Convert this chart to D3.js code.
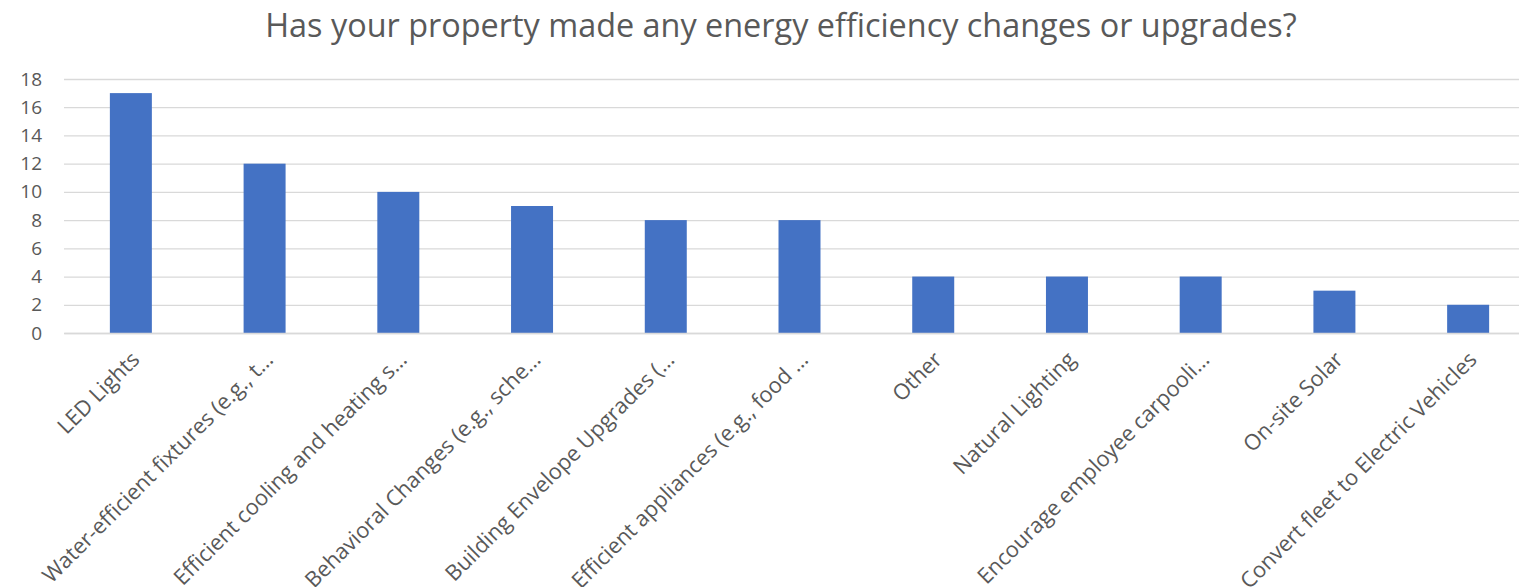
<!DOCTYPE html>
<html><head><meta charset="utf-8">
<script src="https://cdn.jsdelivr.net/npm/d3@7"></script>
<style>html,body{margin:0;padding:0;background:#fff;overflow:hidden}</style>
</head><body>
<svg id="c" width="1519" height="587"></svg>
<script>
const title = "Has your property made any energy efficiency changes or upgrades?";
const categories = ["LED Lights","Water-efficient fixtures (e.g., t…","Efficient cooling and heating s…","Behavioral Changes (e.g., sche…","Building Envelope Upgrades (…","Efficient appliances (e.g., food …","Other","Natural Lighting","Encourage employee carpooli…","On-site Solar","Convert fleet to Electric Vehicles"];
const values = [17,12,10,9,8,8,4,4,4,3,2];
const yTicks = [0,2,4,6,8,10,12,14,16,18];

const svg = d3.select("#c");
const font = "Open Sans, sans-serif";
const textColor = "#595959";
const plotLeft = 64, plotRight = 1535, plotTop = 79, plotBottom = 333;

const x = d3.scaleBand().domain(categories).range([plotLeft, plotRight]).paddingInner(0.686).paddingOuter(0.343);
const y = d3.scaleLinear().domain([0, 18]).range([plotBottom, plotTop]);

// title
const t = svg.append("text").attr("x", 781).attr("y", 37).attr("text-anchor","middle")
  .attr("font-family", font).attr("font-size", 28).attr("fill", textColor).text(title);
const tw = t.node().getComputedTextLength();
t.attr("font-size", 28 * 1032 / tw);

// gridlines
const yAxis = d3.axisLeft(y).tickValues(yTicks).tickSize(-(plotRight-plotLeft)).tickPadding(22);
const gy = svg.append("g").attr("transform", `translate(${plotLeft},0)`).call(yAxis);
gy.select(".domain").remove();
gy.selectAll(".tick line").attr("stroke", "#D9D9D9").attr("stroke-width", 1.3);
gy.selectAll(".tick text").attr("font-family", font).attr("font-size", 19).attr("fill", textColor);

// bars
svg.append("g").selectAll("rect").data(values).join("rect")
  .attr("x", (d,i) => x(categories[i]))
  .attr("width", x.bandwidth())
  .attr("y", d => y(d))
  .attr("height", d => y(0) - y(d))
  .attr("fill", "#4472C4");

// x labels
const xAxis = d3.axisBottom(x).tickSize(0).tickPadding(0);
const gx = svg.append("g").attr("transform", `translate(0,${plotBottom})`).call(xAxis);
gx.select(".domain").attr("stroke","#D9D9D9").attr("stroke-width",1.3);
const lab = gx.selectAll(".tick text").attr("font-family", font).attr("font-size", 17).attr("fill", textColor)
  .attr("text-anchor","end").attr("dy", null).attr("y", 0);
let lw = 0; lab.each(function(){ lw = Math.max(lw, this.getComputedTextLength()); });
const lfs = 17 * 324 / lw;
lab.attr("font-size", lfs).attr("transform", "translate(10,28) rotate(-45)");
</script>
</body></html>
